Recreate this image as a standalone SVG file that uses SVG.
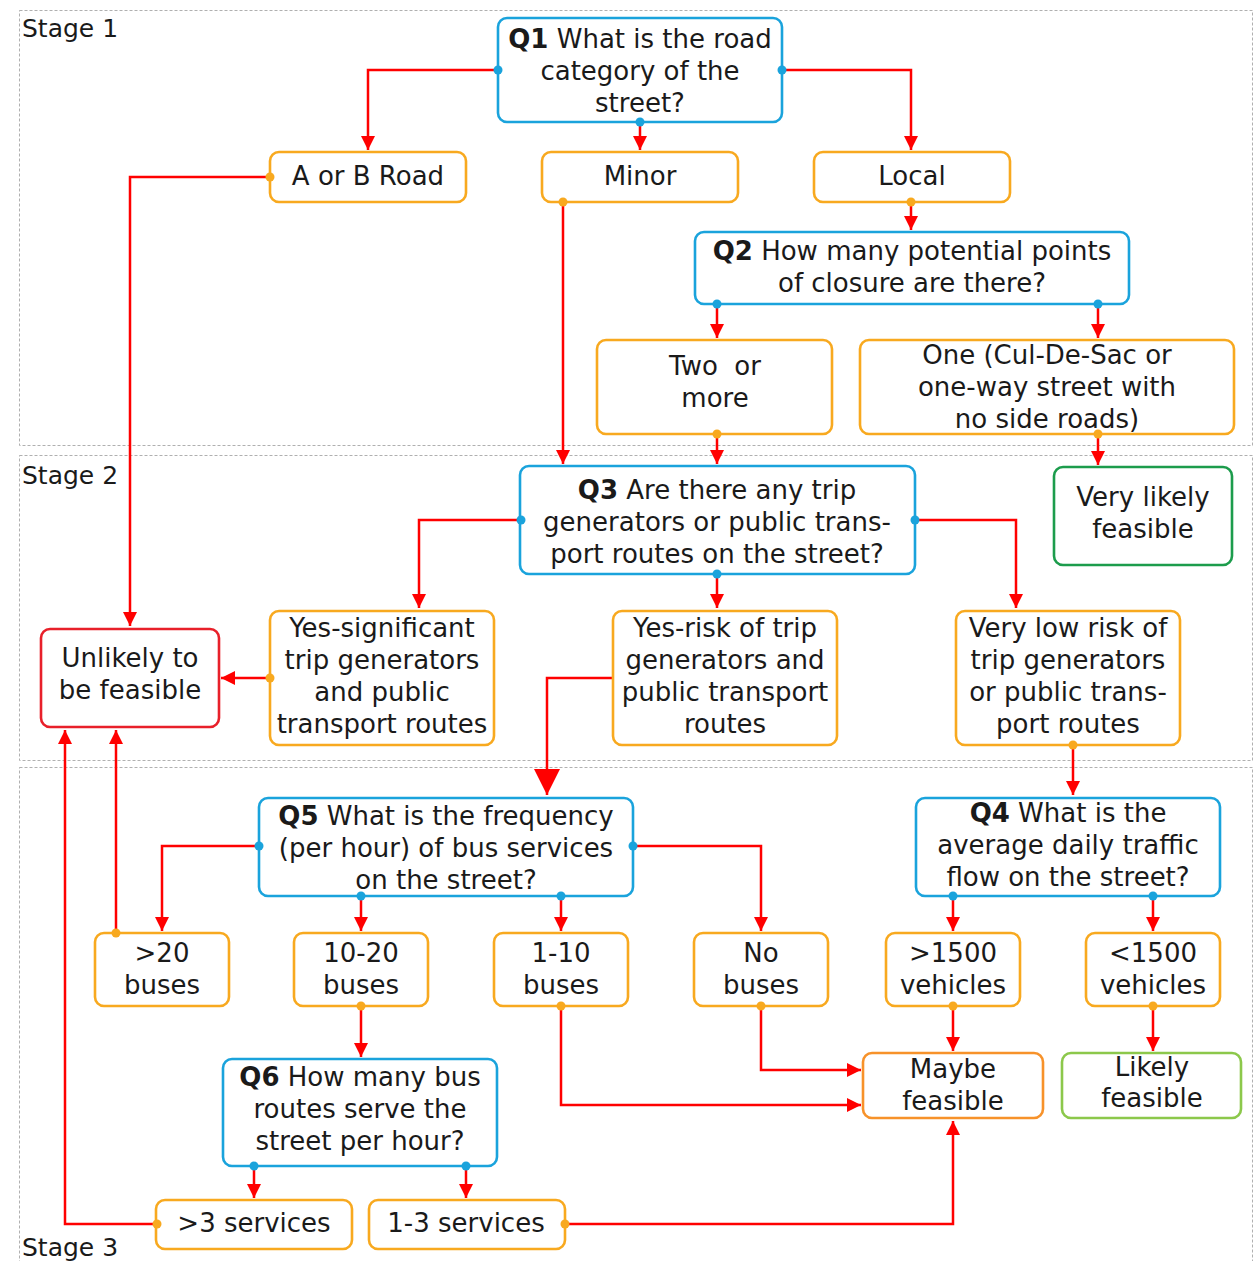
<svg xmlns="http://www.w3.org/2000/svg" width="1256" height="1261" viewBox="0 0 1256 1261">
  <style>
    text { font-family: "DejaVu Sans", "Liberation Sans", sans-serif; font-size: 26px; fill: #1a1a1a; text-anchor: middle; }
    .stage { text-anchor: start; font-size: 25px; }
    .b { font-weight: bold; }
    .frame { fill: none; stroke: #b0b0b0; stroke-width: 1; stroke-dasharray: 3 2; }
    .node rect { fill: #ffffff; stroke-width: 2.6; }
    .q rect { stroke: #1aa3dc; }
    .opt rect { stroke: #f8a91f; }
    .bad rect { stroke: #e8202a; }
    .good rect { stroke: #1c9c4c; }
    .likely rect { stroke: #8cc84b; }
    .maybe rect { stroke: #f7922a; }
    .dq { fill: #1aa3dc; }
    .dopt { fill: #f8a91f; }
    .links path { fill: none; stroke: #ff0000; stroke-width: 2.5; marker-end: url(#arr); }
    .links path.big { marker-end: url(#arrBig); }
  </style>
  <defs>
    <marker id="arr" markerUnits="userSpaceOnUse" markerWidth="14" markerHeight="14" viewBox="0 0 14 14" refX="14" refY="7" orient="auto">
      <path d="M0,0 L14,7 L0,14 z" fill="#ff0000"/>
    </marker>
    <marker id="arrBig" markerUnits="userSpaceOnUse" markerWidth="26" markerHeight="26" viewBox="0 0 26 26" refX="26" refY="13" orient="auto">
      <path d="M0,0 L26,13 L0,26 z" fill="#ff0000"/>
    </marker>
  </defs>

  <!-- stage frames -->
  <rect class="frame" x="19.5" y="10.5" width="1233" height="435"/>
  <rect class="frame" x="19.5" y="455.5" width="1233" height="305"/>
  <rect class="frame" x="19.5" y="767.5" width="1233" height="520"/>
  <text class="stage" x="22" y="37">Stage 1</text>
  <text class="stage" x="22" y="484">Stage 2</text>
  <text class="stage" x="22" y="1256">Stage 3</text>

  <!-- connectors -->
  <g class="links">
    <path d="M498,70 H368 V150"/>
    <path d="M640,122 V150"/>
    <path d="M782,70 H911 V150"/>
    <path d="M911,202 V230"/>
    <path d="M717,304 V338"/>
    <path d="M1098,304 V338"/>
    <path d="M563,202 V464"/>
    <path d="M717,434 V464"/>
    <path d="M1098,434 V465"/>
    <path d="M270,177 H130 V626"/>
    <path d="M521,520 H419 V608"/>
    <path d="M717,574 V608"/>
    <path d="M915,520 H1016 V608"/>
    <path d="M270,678 H221"/>
    <path class="big" d="M613,678 H547 V795"/>
    <path d="M1073,745 V795"/>
    <path d="M259,846 H162 V931"/>
    <path d="M361,896 V931"/>
    <path d="M561,896 V931"/>
    <path d="M633,846 H761 V931"/>
    <path d="M116,933 V730"/>
    <path d="M157,1224 H65 V730"/>
    <path d="M953,896 V931"/>
    <path d="M1153,896 V931"/>
    <path d="M953,1006 V1051"/>
    <path d="M1153,1006 V1051"/>
    <path d="M761,1006 V1070 H861"/>
    <path d="M561,1006 V1105 H861"/>
    <path d="M361,1006 V1057"/>
    <path d="M254,1166 V1198"/>
    <path d="M466,1166 V1198"/>
    <path d="M565,1224 H953 V1121"/>
  </g>

  <!-- Stage 1 -->
  <g id="q1" class="node q">
    <rect x="498" y="18" width="284" height="104" rx="9"/>
    <text x="640" y="48"><tspan class="b">Q1</tspan> What is the road</text>
    <text x="640" y="80">category of the</text>
    <text x="640" y="112">street?</text>
    <circle class="dq" cx="498" cy="70" r="4.5"/>
    <circle class="dq" cx="782" cy="70" r="4.5"/>
    <circle class="dq" cx="640" cy="122" r="4.5"/>
  </g>
  <g id="ab-road" class="node opt">
    <rect x="270" y="152" width="196" height="50" rx="9"/>
    <text x="368" y="185">A or B Road</text>
    <circle class="dopt" cx="270" cy="177" r="4.5"/>
  </g>
  <g id="minor" class="node opt">
    <rect x="542" y="152" width="196" height="50" rx="9"/>
    <text x="640" y="185">Minor</text>
    <circle class="dopt" cx="563" cy="202" r="4.5"/>
  </g>
  <g id="local" class="node opt">
    <rect x="814" y="152" width="196" height="50" rx="9"/>
    <text x="912" y="185">Local</text>
    <circle class="dopt" cx="911" cy="202" r="4.5"/>
  </g>
  <g id="q2" class="node q">
    <rect x="695" y="232" width="434" height="72" rx="9"/>
    <text x="912" y="260"><tspan class="b">Q2</tspan> How many potential points</text>
    <text x="912" y="292">of closure are there?</text>
    <circle class="dq" cx="717" cy="304" r="4.5"/>
    <circle class="dq" cx="1098" cy="304" r="4.5"/>
  </g>
  <g id="two-or-more" class="node opt">
    <rect x="597" y="340" width="235" height="94" rx="9"/>
    <text x="715" y="375" xml:space="preserve">Two  or</text>
    <text x="715" y="407">more</text>
    <circle class="dopt" cx="717" cy="434" r="4.5"/>
  </g>
  <g id="one" class="node opt">
    <rect x="860" y="340" width="374" height="94" rx="9"/>
    <text x="1047" y="364">One (Cul-De-Sac or</text>
    <text x="1047" y="396">one-way street with</text>
    <text x="1047" y="428">no side roads)</text>
    <circle class="dopt" cx="1098" cy="434" r="4.5"/>
  </g>

  <!-- Stage 2 -->
  <g id="q3" class="node q">
    <rect x="520" y="466" width="395" height="108" rx="9"/>
    <text x="717" y="499"><tspan class="b">Q3</tspan> Are there any trip</text>
    <text x="717" y="531">generators or public trans-</text>
    <text x="717" y="563">port routes on the street?</text>
    <circle class="dq" cx="521" cy="520" r="4.5"/>
    <circle class="dq" cx="915" cy="520" r="4.5"/>
    <circle class="dq" cx="717" cy="574" r="4.5"/>
  </g>
  <g id="very-likely" class="node good">
    <rect x="1054" y="467" width="178" height="98" rx="9"/>
    <text x="1143" y="506">Very likely</text>
    <text x="1143" y="538">feasible</text>
  </g>
  <g id="unlikely" class="node bad">
    <rect x="41" y="629" width="178" height="98" rx="9"/>
    <text x="130" y="667">Unlikely to</text>
    <text x="130" y="699">be feasible</text>
  </g>
  <g id="yes-significant" class="node opt">
    <rect x="270" y="611" width="224" height="134" rx="9"/>
    <text x="382" y="637">Yes-significant</text>
    <text x="382" y="669">trip generators</text>
    <text x="382" y="701">and public</text>
    <text x="382" y="733">transport routes</text>
    <circle class="dopt" cx="270" cy="678" r="4.5"/>
  </g>
  <g id="yes-risk" class="node opt">
    <rect x="613" y="611" width="224" height="134" rx="9"/>
    <text x="725" y="637">Yes-risk of trip</text>
    <text x="725" y="669">generators and</text>
    <text x="725" y="701">public transport</text>
    <text x="725" y="733">routes</text>
  </g>
  <g id="very-low-risk" class="node opt">
    <rect x="956" y="611" width="224" height="134" rx="9"/>
    <text x="1068" y="637">Very low risk of</text>
    <text x="1068" y="669">trip generators</text>
    <text x="1068" y="701">or public trans-</text>
    <text x="1068" y="733">port routes</text>
    <circle class="dopt" cx="1073" cy="745" r="4.5"/>
  </g>

  <!-- Stage 3 -->
  <g id="q5" class="node q">
    <rect x="259" y="798" width="374" height="98" rx="9"/>
    <text x="446" y="825"><tspan class="b">Q5</tspan> What is the frequency</text>
    <text x="446" y="857">(per hour) of bus services</text>
    <text x="446" y="889">on the street?</text>
    <circle class="dq" cx="259" cy="846" r="4.5"/>
    <circle class="dq" cx="633" cy="846" r="4.5"/>
    <circle class="dq" cx="361" cy="896" r="4.5"/>
    <circle class="dq" cx="561" cy="896" r="4.5"/>
  </g>
  <g id="q4" class="node q">
    <rect x="916" y="798" width="304" height="98" rx="9"/>
    <text x="1068" y="822"><tspan class="b">Q4</tspan> What is the</text>
    <text x="1068" y="854">average daily traffic</text>
    <text x="1068" y="886">flow on the street?</text>
    <circle class="dq" cx="953" cy="896" r="4.5"/>
    <circle class="dq" cx="1153" cy="896" r="4.5"/>
  </g>
  <g id="over-20" class="node opt">
    <rect x="95" y="933" width="134" height="73" rx="9"/>
    <text x="162" y="962">&gt;20</text>
    <text x="162" y="994">buses</text>
    <circle class="dopt" cx="116" cy="933" r="4.5"/>
  </g>
  <g id="b10-20" class="node opt">
    <rect x="294" y="933" width="134" height="73" rx="9"/>
    <text x="361" y="962">10-20</text>
    <text x="361" y="994">buses</text>
    <circle class="dopt" cx="361" cy="1006" r="4.5"/>
  </g>
  <g id="b1-10" class="node opt">
    <rect x="494" y="933" width="134" height="73" rx="9"/>
    <text x="561" y="962">1-10</text>
    <text x="561" y="994">buses</text>
    <circle class="dopt" cx="561" cy="1006" r="4.5"/>
  </g>
  <g id="no-buses" class="node opt">
    <rect x="694" y="933" width="134" height="73" rx="9"/>
    <text x="761" y="962">No</text>
    <text x="761" y="994">buses</text>
    <circle class="dopt" cx="761" cy="1006" r="4.5"/>
  </g>
  <g id="over-1500" class="node opt">
    <rect x="886" y="933" width="134" height="73" rx="9"/>
    <text x="953" y="962">&gt;1500</text>
    <text x="953" y="994">vehicles</text>
    <circle class="dopt" cx="953" cy="1006" r="4.5"/>
  </g>
  <g id="under-1500" class="node opt">
    <rect x="1086" y="933" width="134" height="73" rx="9"/>
    <text x="1153" y="962">&lt;1500</text>
    <text x="1153" y="994">vehicles</text>
    <circle class="dopt" cx="1153" cy="1006" r="4.5"/>
  </g>
  <g id="maybe" class="node maybe">
    <rect x="863" y="1053" width="180" height="65" rx="9"/>
    <text x="953" y="1078">Maybe</text>
    <text x="953" y="1110">feasible</text>
  </g>
  <g id="likely" class="node likely">
    <rect x="1062" y="1053" width="179" height="65" rx="9"/>
    <text x="1152" y="1076">Likely</text>
    <text x="1152" y="1107">feasible</text>
  </g>
  <g id="q6" class="node q">
    <rect x="223" y="1059" width="274" height="107" rx="9"/>
    <text x="360" y="1086"><tspan class="b">Q6</tspan> How many bus</text>
    <text x="360" y="1118">routes serve the</text>
    <text x="360" y="1150">street per hour?</text>
    <circle class="dq" cx="254" cy="1166" r="4.5"/>
    <circle class="dq" cx="466" cy="1166" r="4.5"/>
  </g>
  <g id="over-3" class="node opt">
    <rect x="156" y="1200" width="196" height="49" rx="9"/>
    <text x="254" y="1232">&gt;3 services</text>
    <circle class="dopt" cx="157" cy="1224" r="4.5"/>
  </g>
  <g id="s1-3" class="node opt">
    <rect x="369" y="1200" width="196" height="49" rx="9"/>
    <text x="466" y="1232">1-3 services</text>
    <circle class="dopt" cx="565" cy="1224" r="4.5"/>
  </g>
</svg>
